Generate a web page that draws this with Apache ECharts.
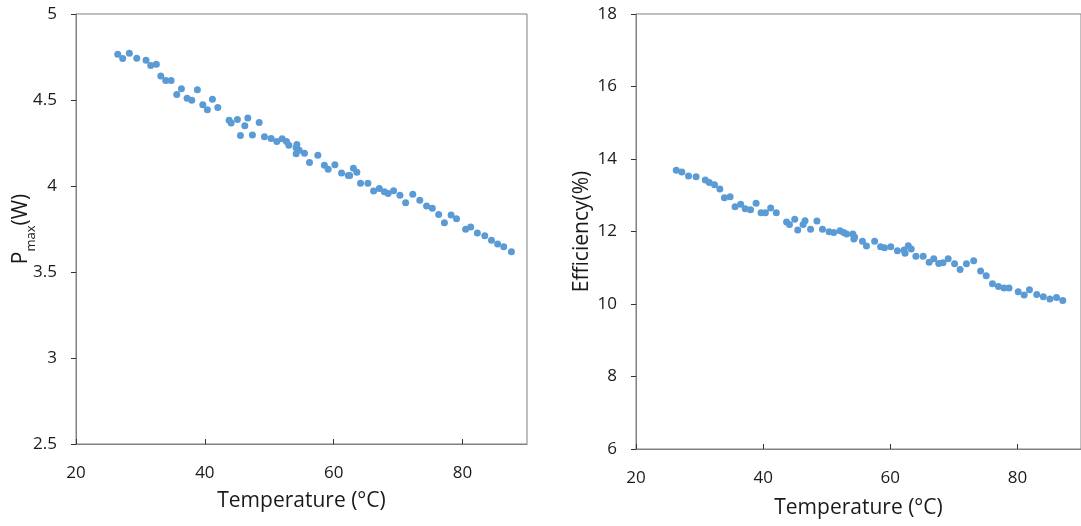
<!DOCTYPE html>
<html>
<head>
<meta charset="utf-8">
<script src="https://cdn.jsdelivr.net/npm/echarts@6/dist/echarts.min.js"></script>
<style>html,body{margin:0;padding:0;background:#fff;}#c{width:1081px;height:526px;}</style>
</head>
<body>
<div id="c"></div>
<script>
// Left panel: Pmax vs temperature
const tempP = [26.48,27.25,28.28,29.43,30.87,31.60,32.47,33.16,33.93,34.76,35.64,36.36,37.24,37.97,38.84,39.68,40.39,41.17,42.01,43.77,44.08,45.05,45.52,46.20,46.67,47.38,48.43,49.25,50.29,51.17,52.00,52.67,53.04,54.28,54.17,54.64,54.17,55.46,56.24,57.54,58.55,59.14,60.18,61.22,62.26,62.48,63.06,63.59,64.16,65.31,66.19,67.08,67.87,68.45,69.29,70.28,71.16,72.27,73.36,74.41,75.30,76.29,77.18,78.22,79.06,80.47,81.26,82.30,83.45,84.49,85.44,86.39,87.58];
const pmax = [4.766,4.741,4.772,4.743,4.731,4.700,4.708,4.640,4.613,4.613,4.532,4.565,4.510,4.499,4.559,4.472,4.444,4.504,4.456,4.382,4.367,4.386,4.293,4.351,4.396,4.297,4.369,4.287,4.276,4.258,4.274,4.258,4.237,4.241,4.222,4.208,4.188,4.190,4.136,4.179,4.120,4.097,4.124,4.076,4.061,4.061,4.103,4.080,4.016,4.016,3.971,3.985,3.967,3.956,3.973,3.946,3.902,3.952,3.917,3.884,3.870,3.835,3.787,3.832,3.809,3.748,3.762,3.727,3.711,3.684,3.663,3.647,3.618];
// Right panel: efficiency vs temperature
const tempE = [26.34,27.21,28.26,29.45,30.90,31.53,32.35,33.19,33.91,34.80,35.58,36.46,37.18,38.02,38.89,39.67,40.36,41.18,42.07,43.68,44.14,44.97,45.44,46.28,46.59,47.46,48.46,49.33,50.37,51.11,52.09,52.66,53.13,54.11,54.27,54.38,55.62,56.25,57.54,58.47,59.10,60.08,61.12,62.17,62.32,62.83,63.30,64.03,65.17,66.11,66.84,67.62,68.29,69.11,70.11,70.98,71.98,73.12,74.21,75.09,76.07,77.01,77.90,78.68,80.12,81.06,81.89,83.04,84.07,85.11,86.15,87.13];
const eff = [13.69,13.64,13.53,13.51,13.42,13.35,13.29,13.17,12.93,12.96,12.68,12.75,12.63,12.60,12.78,12.52,12.52,12.65,12.52,12.26,12.19,12.34,12.04,12.19,12.30,12.06,12.29,12.06,11.99,11.97,12.02,11.97,11.93,11.93,11.79,11.85,11.73,11.60,11.73,11.58,11.55,11.58,11.47,11.49,11.40,11.61,11.52,11.32,11.32,11.15,11.25,11.12,11.14,11.25,11.11,10.95,11.11,11.19,10.91,10.78,10.56,10.48,10.44,10.44,10.34,10.25,10.39,10.26,10.20,10.14,10.18,10.10];
const xTicks = [20, 40, 60, 80];
const yTicksP = [2.5, 3, 3.5, 4, 4.5, 5];
const yTicksE = [6, 8, 10, 12, 14, 16, 18];

const FONT = 'Open Sans';
const AX = '#808080';
const TXT = '#1a1a1a';
const chart = echarts.init(document.getElementById('c'), null, {renderer: 'canvas'});

function xAx(idx, gap) {
  return {
    type: 'value', gridIndex: idx, min: xTicks[0], max: 90, interval: xTicks[1] - xTicks[0],
    splitLine: {show: false},
    axisLine: {show: true, onZero: false, lineStyle: {color: AX, width: 1}},
    axisTick: {show: true, inside: true, length: 5, customValues: xTicks, lineStyle: {color: '#333'}},
    axisLabel: {margin: 21, fontFamily: FONT, fontSize: 17, color: TXT, customValues: xTicks,
      formatter: v => xTicks.indexOf(v) >= 0 ? String(v) : ''},
    name: 'Temperature (°C)', nameLocation: 'middle', nameGap: gap,
    nameTextStyle: {fontFamily: FONT, fontSize: 21, color: TXT}
  };
}
function yAx(idx, ticks, name, gap, rich) {
  const o = {
    type: 'value', gridIndex: idx, min: ticks[0], max: ticks[ticks.length - 1], interval: ticks[1] - ticks[0],
    splitLine: {show: false},
    axisLine: {show: true, onZero: false, lineStyle: {color: AX, width: 1}},
    axisTick: {show: true, inside: false, length: 5, lineStyle: {color: '#333'}},
    axisLabel: {margin: 19, fontFamily: FONT, fontSize: 17, color: TXT},
    name: name, nameLocation: 'middle', nameGap: gap, nameRotate: 90,
    nameTextStyle: {fontFamily: FONT, fontSize: 21, color: TXT}
  };
  if (rich) { o.nameTextStyle.rich = rich; o.nameMoveOverlap = false; }
  return o;
}

chart.setOption({
  animation: false,
  backgroundColor: '#fff',
  grid: [
    {left: 76, top: 14, width: 451, height: 430, show: true, borderColor: AX, borderWidth: 1, backgroundColor: 'transparent'},
    {left: 636, top: 14, width: 450, height: 435, show: true, borderColor: AX, borderWidth: 1, backgroundColor: 'transparent'}
  ],
  xAxis: [xAx(0, 47), xAx(1, 49)],
  yAxis: [
    yAx(0, yTicksP, '{p|P}{s|max}{p|(W)}', 38, {
      p: {fontFamily: FONT, fontSize: 21, color: TXT, verticalAlign: 'bottom', padding: [0, 0, 6, 0]},
      s: {fontFamily: FONT, fontSize: 13, color: TXT, verticalAlign: 'bottom'}
    }),
    yAx(1, yTicksE, 'Efficiency(%)', 43)
  ],
  series: [
    {type: 'scatter', xAxisIndex: 0, yAxisIndex: 0, symbolSize: 7,
     itemStyle: {color: '#5b9bd5', opacity: 1},
     data: tempP.map((t, i) => [t, pmax[i]])},
    {type: 'scatter', xAxisIndex: 1, yAxisIndex: 1, symbolSize: 7,
     itemStyle: {color: '#5b9bd5', opacity: 1},
     data: tempE.map((t, i) => [t, eff[i]])}
  ]
});
</script>
</body>
</html>
